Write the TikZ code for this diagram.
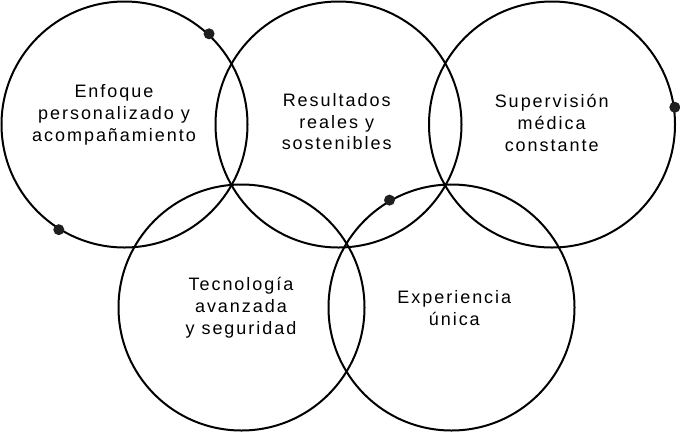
\documentclass[tikz,border=0pt]{standalone}
\usepackage{fontspec}
\setmainfont[LetterSpace=11]{Liberation Sans}
\begin{document}
\begin{tikzpicture}[x=1pt,y=-1pt]
\tikzset{
  ring/.style={draw=black, line width=2pt, circle, minimum size=246pt, inner sep=0pt},
  dotmark/.style={circle, fill=black!88, minimum size=11pt, inner sep=0pt},
  label/.style={align=center, inner sep=0pt, font=\fontsize{18}{21.8}\selectfont}
}
\fill[white] (0,0) rectangle (680,432);
\useasboundingbox (0,0) rectangle (680,432);
\node[ring] (c1) at (124.5,124.5) {};
\node[ring] (c2) at (338.5,124.5) {};
\node[ring] (c3) at (552,124.5) {};
\node[ring] (c4) at (241.5,307.5) {};
\node[ring] (c5) at (451.5,307.5) {};
\node[dotmark] (d1) at (c1.47) {};
\node[dotmark] (d2) at (c1.-122.7) {};
\node[dotmark] (d3) at (c3.8.6) {};
\node[dotmark] (d4) at (c5.120.2) {};
\node[label] (t1) at (114,115) {Enfoque\\personalizado y\\acompañamiento};
\node[label] (t2) at (336.7,121.7) {Resultados\\reales y\\sostenibles};
\node[label] (t3) at (551.7,123) {Supervisión\\médica\\constante};
\node[label] (t4) at (241,308) {Tecnología\\avanzada\\y seguridad};
\node[label] (t5) at (454.3,308) {Experiencia\\única};
\end{tikzpicture}
\end{document}
